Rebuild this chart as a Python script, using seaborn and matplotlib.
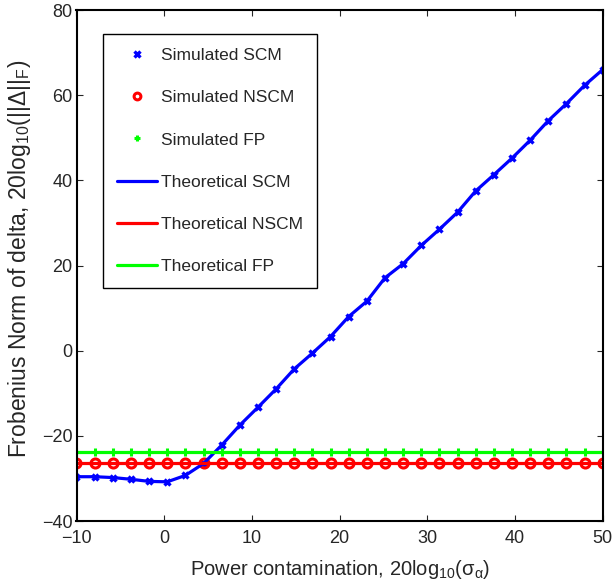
import numpy as np
import pandas as pd
import matplotlib
matplotlib.use("Agg")
import matplotlib.pyplot as plt
import seaborn as sns

# ---- data ----
power_db = np.linspace(-10, 50, 30)
scm = [-29.6, -29.6, -29.8, -30.2, -30.7, -30.8, -29.3, -26.5, -22.2, -17.5,
       -13.3, -9.0, -4.3, -0.6, 3.3, 8.0, 11.6, 17.1, 20.4, 24.7,
       28.5, 32.5, 37.5, 41.3, 45.2, 49.4, 54.0, 58.0, 62.3, 66.0]
nscm = [-26.3] * 30
fp = [-23.8] * 30
xticks = [-10, 0, 10, 20, 30, 40, 50]
yticks = [-40, -20, 0, 20, 40, 60, 80]

df = pd.DataFrame({"x": power_db, "scm": scm, "nscm": nscm, "fp": fp})

sns.set_style("ticks")
plt.rcParams["font.family"] = ["Liberation Sans", "DejaVu Sans"]
plt.rcParams["mathtext.fontset"] = "custom"
plt.rcParams["mathtext.rm"] = "Liberation Sans"
plt.rcParams["mathtext.it"] = "Liberation Sans:italic"
plt.rcParams["mathtext.sf"] = "Liberation Sans"
plt.rcParams["mathtext.default"] = "regular"
plt.rcParams["axes.unicode_minus"] = True

fig = plt.figure(figsize=(6.13, 5.88), dpi=100)
L, R, T, B = 76.5, 602.7, 10, 521
ax = fig.add_axes([L / 613, 1 - B / 588, (R - L) / 613, (B - T) / 588])

TICK_FS = 13
LEG_FS = 12.5

# simulated (markers only)
sns.lineplot(data=df, x="x", y="scm", ax=ax, color="#0000ff", linestyle="none",
             marker="x", markersize=5, markeredgewidth=2.4,
             markeredgecolor="#0000ff", label="Simulated SCM")
sns.lineplot(data=df, x="x", y="nscm", ax=ax, color="#ff0000", linestyle="none",
             marker="o", markersize=6.5, markeredgewidth=2.2,
             markerfacecolor="none", markeredgecolor="#ff0000", label="Simulated NSCM")
sns.lineplot(data=df, x="x", y="fp", ax=ax, color="#00ff00", linestyle="none",
             marker="+", markersize=6, markeredgewidth=2.2,
             markeredgecolor="#00ff00", label="Simulated FP")
# theoretical (lines)
sns.lineplot(data=df, x="x", y="scm", ax=ax, color="#0000ff", linewidth=2.3,
             label="Theoretical SCM")
sns.lineplot(data=df, x="x", y="nscm", ax=ax, color="#ff0000", linewidth=2.3,
             label="Theoretical NSCM")
sns.lineplot(data=df, x="x", y="fp", ax=ax, color="#00ff00", linewidth=2.3,
             label="Theoretical FP")

ax.set_xlim(-10, 50)
ax.set_ylim(-40, 80)
ax.set_xticks(xticks)
ax.set_yticks(yticks)
ax.tick_params(direction="in", top=True, right=True, labelsize=TICK_FS, length=4.5,
               width=0.8)
ax.tick_params(axis="x", pad=6.5)
ax.tick_params(axis="y", pad=3)
for s in ax.spines.values():
    s.set_visible(True)
    s.set_linewidth(1.5)
    s.set_color("black")

ax.set_xlabel(r"Power contamination, 20log$_{10}$($\sigma_{\alpha}$)", fontsize=14.5)
ax.set_ylabel(r"Frobenius Norm of delta, 20log$_{10}$(||$\Delta$||$_{F}$)", fontsize=16.5)
ax.xaxis.set_label_coords(0.5, (B - 558) / (B - T))
ax.yaxis.set_label_coords((33 - L) / (R - L), 0.513)

leg = ax.legend(loc="upper left", bbox_to_anchor=(0.05, 0.953), borderaxespad=0,
                fontsize=LEG_FS, frameon=True, fancybox=False, framealpha=1,
                edgecolor="black", labelspacing=1.56, handlelength=2.3,
                handletextpad=0.25, borderpad=0.8, markerscale=0.75)
leg.get_frame().set_linewidth(1.0)

fig.savefig("out.png", dpi=100)
